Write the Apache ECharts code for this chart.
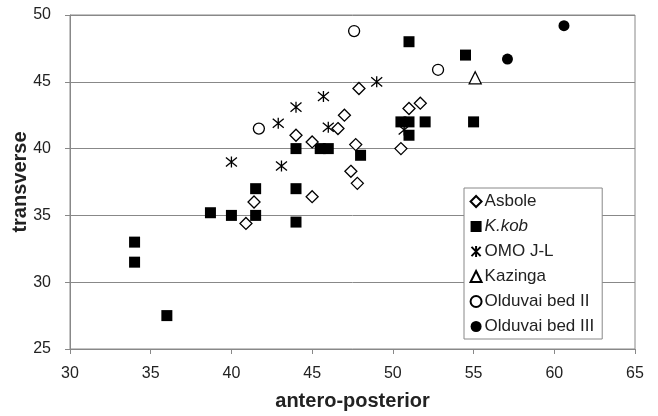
<!DOCTYPE html>
<html>
<head>
<meta charset="utf-8">
<script src="https://cdn.jsdelivr.net/npm/echarts@6/dist/echarts.min.js"></script>
<style>
  html, body { margin: 0; padding: 0; background: #fff; }
  #container { width: 658px; height: 416px; }
</style>
</head>
<body>
<div id="container"></div>
<script>
// [antero-posterior, transverse]
var asbole = [
  [47.9, 44.5], [47.0, 42.5], [46.6, 41.5], [44.0, 41.0], [45.0, 40.5],
  [47.7, 40.3], [47.4, 38.3], [47.8, 37.4], [45.0, 36.4], [41.4, 36.0],
  [40.9, 34.4], [51.7, 43.4], [51.0, 43.0], [50.5, 40.0]
];
var kkob = [
  [51.0, 48.0], [54.5, 47.0], [44.0, 40.0], [45.5, 40.0], [46.0, 40.0],
  [48.0, 39.5], [41.5, 37.0], [44.0, 37.0], [38.7, 35.2], [40.0, 35.0],
  [41.5, 35.0], [44.0, 34.5], [34.0, 33.0], [34.0, 31.5], [36.0, 27.5],
  [50.5, 42.0], [51.0, 42.0], [52.0, 42.0], [55.0, 42.0], [51.0, 41.0]
];
var omo = [
  [45.7, 43.9], [44.0, 43.1], [42.9, 41.9], [46.0, 41.6], [40.0, 39.0],
  [43.1, 38.7], [49.0, 45.0], [50.7, 41.4]
];
var kazinga = [[55.1, 45.3]];
var olduvai2 = [[47.6, 48.8], [41.7, 41.5], [52.8, 45.9]];
var olduvai3 = [[60.6, 49.2], [57.1, 46.7]];

var font = 'Liberation Sans, Arial, sans-serif';
var starPath = 'path://M0,0L10,10M10,0L0,10M5,-1L5,11';

var dom = document.getElementById('container');
var myChart = echarts.init(dom, null, { renderer: 'canvas' });

var openStyle = { color: '#fff', borderColor: '#000', borderWidth: 1.3, opacity: 1 };
var fillStyle = { color: '#000', opacity: 1 };

var option = {
  animation: false,
  textStyle: { fontFamily: font },
  grid: {
    left: 70, right: 23, top: 15, bottom: 67,
    outerBoundsMode: 'none',
    containLabel: false,
    show: true, borderColor: '#888', borderWidth: 1
  },
  legend: {
    orient: 'vertical',
    left: 464, top: 188,
    backgroundColor: '#fff',
    borderColor: '#888',
    borderWidth: 1,
    padding: [5, 8, 4, 5],
    itemWidth: 11, itemHeight: 11,
    itemGap: 8,
    textStyle: {
      fontFamily: font, fontSize: 17, color: '#222', padding: [0, 0, 0, -2],
      rich: { i: { fontStyle: 'italic', fontSize: 17, fontFamily: font, color: '#222' } }
    },
    formatter: function (name) {
      return name === 'K.kob' ? '{i|K.kob}' : name;
    },
    data: ['Asbole', 'K.kob', 'OMO J-L', 'Kazinga', 'Olduvai bed II', 'Olduvai bed III']
  },
  xAxis: {
    type: 'value',
    min: 30, max: 65, interval: 5,
    name: 'antero-posterior',
    nameLocation: 'middle',
    nameGap: 42,
    nameTextStyle: { fontSize: 20, fontWeight: 'bold', color: '#222', fontFamily: font },
    axisLine: { show: true, lineStyle: { color: '#888', width: 1 } },
    axisTick: { show: true, length: 5, lineStyle: { color: '#888' } },
    axisLabel: { fontSize: 16, color: '#222', margin: 17, fontFamily: font },
    splitLine: { show: false }
  },
  yAxis: {
    type: 'value',
    min: 25, max: 50, interval: 5,
    name: 'transverse',
    nameLocation: 'middle',
    nameMoveOverlap: false,
    nameGap: 40,
    nameTextStyle: { fontSize: 20, fontWeight: 'bold', color: '#222', fontFamily: font },
    axisLine: { show: true, lineStyle: { color: '#888', width: 1 } },
    axisTick: { show: true, length: 5, lineStyle: { color: '#888' } },
    axisLabel: { fontSize: 16, color: '#222', margin: 19, fontFamily: font },
    splitLine: { show: true, lineStyle: { color: '#888', width: 1 } }
  },
  series: [
    { name: 'Asbole', type: 'scatter', symbol: 'diamond', symbolSize: 12, itemStyle: openStyle, data: asbole, z: 3 },
    { name: 'K.kob', type: 'scatter', symbol: 'rect', symbolSize: 11, itemStyle: fillStyle, data: kkob, z: 2 },
    { name: 'OMO J-L', type: 'scatter', symbol: starPath, symbolSize: 11,
      itemStyle: { color: 'none', borderColor: '#000', borderWidth: 1.3, opacity: 1 }, data: omo, z: 1 },
    { name: 'Kazinga', type: 'scatter', symbol: 'triangle', symbolSize: 12, itemStyle: openStyle, data: kazinga },
    { name: 'Olduvai bed II', type: 'scatter', symbol: 'circle', symbolSize: 11, itemStyle: openStyle, data: olduvai2 },
    { name: 'Olduvai bed III', type: 'scatter', symbol: 'circle', symbolSize: 11, itemStyle: fillStyle, data: olduvai3 }
  ]
};

if (option && typeof option === 'object') {
  myChart.setOption(option);
}
</script>
</body>
</html>
